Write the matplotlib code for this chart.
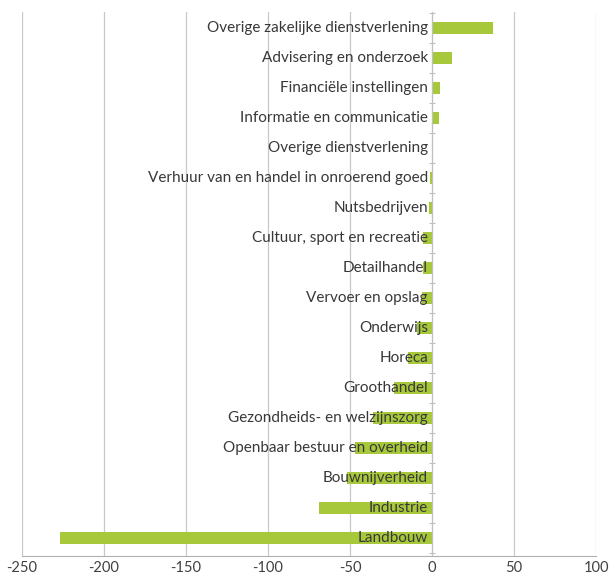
import matplotlib.pyplot as plt
import numpy as np

# sectors, top to bottom as in the chart
sectors = [
    "Overige zakelijke dienstverlening",
    "Advisering en onderzoek",
    "Financiële instellingen",
    "Informatie en communicatie",
    "Overige dienstverlening",
    "Verhuur van en handel in onroerend goed",
    "Nutsbedrijven",
    "Cultuur, sport en recreatie",
    "Detailhandel",
    "Vervoer en opslag",
    "Onderwijs",
    "Horeca",
    "Groothandel",
    "Gezondheids- en welzijnszorg",
    "Openbaar bestuur en overheid",
    "Bouwnijverheid",
    "Industrie",
    "Landbouw",
]
values = [37, 12, 5, 4, 0, -1, -2, -5.5, -5.5, -6, -9, -15, -23, -36, -47, -52, -69, -227]
x_ticks = [-250, -200, -150, -100, -50, 0, 50, 100]

plt.rcParams['font.family'] = ['Lato', 'DejaVu Sans']

fig = plt.figure(figsize=(6.09, 5.79), dpi=100)
ax = fig.add_axes([0.036, 0.04, 0.943, 0.94])

pos = np.arange(len(sectors))[::-1]
ax.barh(pos, values, height=0.4, color='#a8c83c', zorder=2)

ax.set_xlim(-250, 100)
ax.set_ylim(-0.6, len(sectors) - 0.45)
ax.set_xticks(x_ticks)
ax.set_xticklabels([str(t) for t in x_ticks])
ax.tick_params(axis='x', length=0, pad=4, labelsize=10.5, labelcolor='#404040')
ax.grid(axis='x', color='#c8c8c8', linewidth=0.9, zorder=0)

# category axis sits at x = 0
for s in ['top', 'right']:
    ax.spines[s].set_visible(False)
ax.spines['left'].set_position(('data', 0))
ax.spines['left'].set_color('#c0c0c0')
ax.spines['bottom'].set_color('#b0b0b0')
ax.set_yticks(np.arange(len(sectors) + 1) - 0.5)
ax.set_yticklabels([])
ax.tick_params(axis='y', length=4, direction='inout', color='#c0c0c0')

# labels drawn on top of the bars, right-aligned at zero
for p, name in zip(pos, sectors):
    ax.annotate(name, xy=(0, p), xytext=(-3, 0), textcoords='offset points',
                ha='right', va='center', fontsize=11, color='#383838', zorder=4)

fig.savefig('out.png', dpi=100)
